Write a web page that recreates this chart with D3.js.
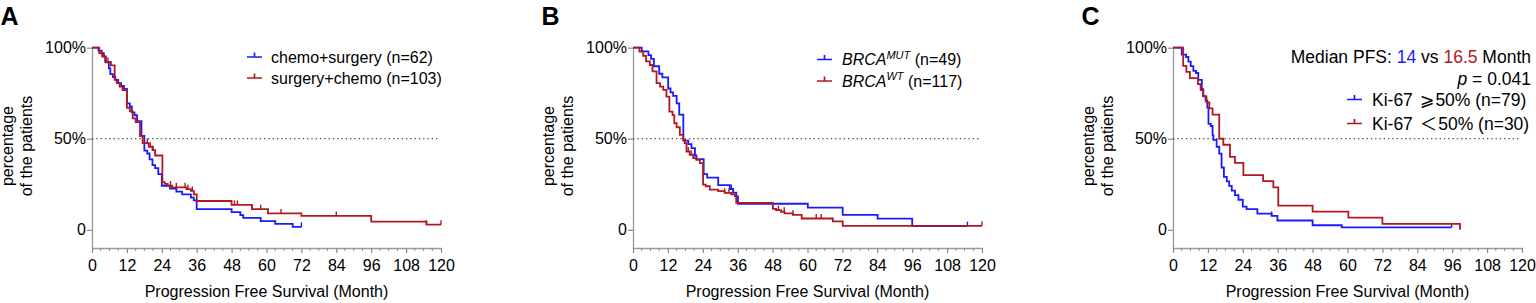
<!DOCTYPE html>
<html><head><meta charset="utf-8">
<script src="https://cdn.jsdelivr.net/npm/d3@7"></script>
<style>
html,body{margin:0;padding:0;background:#fff;}
svg{display:block;font-family:"Liberation Sans",Arial,sans-serif;}
</style></head><body>
<svg id="chart" width="1536" height="303"></svg>
<script>
// ---------- shared axis data ----------
const xTicks = [0,12,24,36,48,60,72,84,96,108,120];
const xMinorTicks = d3.range(0,121,3);
const yTicks = [0,50,100];
const yTickLabels = ["0","50%","100%"];
const panelLetters = ["A","B","C"];
const xTitle = "Progression Free Survival (Month)";
const yTitleLines = ["percentage","of the patients"];
const blue = "#1a1aff", red = "#b0191f";

// ---------- Panel A ----------
const aChemoSurgery = [[0,100],[2.2,98.4],[3.3,96.8],[4.1,95.2],[4.8,91.9],[5.8,88.7],[6.3,85.5],[7.2,83.9],[8,82.3],[9,80.6],[10,79],[11,77.4],[12,69.4],[13,67.7],[13.7,64.5],[14.6,62.9],[15.5,59.7],[17,51.6],[18,43.5],[19,41.9],[19.8,38.7],[20.8,35.5],[21.7,33.9],[22.8,30.6],[24,24.2],[26.8,22.6],[29,21],[31,19.4],[34,17.7],[35,16.1],[36,11.3],[48,9.7],[51,8.1],[52,6.5],[58,4.8],[63,3.2],[69,1.6]];
const aChemoSurgeryEnd = 72;
const aChemoSurgeryCensor = [72];
const aSurgeryChemo = [[0,100],[2.5,97.1],[3.5,95.1],[4.5,92.2],[6.5,90.3],[7.8,82.5],[8.5,80.6],[9.5,78.6],[10.5,76.7],[12,67],[13,65],[14,61.2],[15,59.2],[16.5,51.5],[17.4,47.6],[19.5,45.6],[20.8,43.7],[21.7,40.8],[24.2,26.2],[25,25.2],[26,24.3],[27.5,23.3],[32.5,22.3],[34,21.4],[35,19.4],[36,15.8],[48,13.7],[55,11.3],[60.5,9],[72,7.6],[96,4.5],[115,2.8]];
const aSurgeryChemoEnd = 120;
const aSurgeryChemoCensor = [4,5.5,19,20,21,27,29,32,33,34.5,49,50,55,58,65,84,115,120];
const aLegend = ["chemo+surgery (n=62)","surgery+chemo (n=103)"];

// ---------- Panel B ----------
const bMut = [[0,100],[3,98],[5.3,95.9],[6.2,93.9],[7.2,89.8],[9,85.7],[10.1,83.7],[12.1,77.6],[12.9,75.5],[13.8,73.5],[15,69.4],[15.9,63.3],[17.3,49],[19,47],[20.1,44.9],[21.3,40.8],[21.8,38.8],[24.3,30.6],[25.5,28.6],[29.3,24.5],[33.3,22.4],[34.4,20.4],[35.5,18.4],[36.1,14.3],[60.1,12.2],[72.1,8.2],[84.1,6.1],[96,2.0]];
const bMutEnd = 115;
const bMutCensor = [33.8,115];
const bWt = [[0,100],[2.2,97.9],[3.5,95.5],[4.5,92.5],[5.8,90.5],[6.7,87],[8.1,80.5],[9.3,78.6],[10.4,76.8],[11.5,73.1],[12.5,64.9],[13.6,63],[14.2,58.5],[15,56.3],[16.1,52.1],[17.3,49.4],[17.8,47.6],[18.4,43],[19.5,41.2],[20.7,39.4],[21.8,38.4],[23,36.6],[24.1,24.8],[25,23.9],[26.4,22.1],[29.3,21.2],[31.5,20.3],[33.8,19.4],[35,18.5],[35.5,14.8],[48.1,11.5],[49.2,10.8],[50.9,9.9],[52.1,9.0],[55,8.2],[58,6.2],[68.7,4.6],[72.1,2.2]];
const bWtEnd = 120;
const bWtCensor = [19,20,31.5,33,50,52,55,63,64.7,120];
const bLegendSup = ["MUT","WT"];
const bLegendN = [" (n=49)"," (n=117)"];

// ---------- Panel C ----------
const cHigh = [[0,100],[3,96.2],[4.5,94.9],[5.3,92.4],[6.1,89.9],[7,87.3],[7.9,86.1],[8.7,82.3],[9.9,77.2],[10.4,73.4],[11.2,70.9],[11.8,67.1],[12.2,58.2],[13,57],[13.6,51.9],[13.9,49.4],[15,45.6],[15.9,41.8],[16.7,34.2],[17.5,29.1],[18.5,26.6],[19.3,24.1],[20.2,21.5],[21.3,19],[22.5,16.5],[24,12.7],[25.3,11.4],[29,8.9],[33.9,7.6],[35.9,5.1],[48,2.5],[58,1.3]];
const cHighEnd = 95.8;
const cHighCensor = [33.9,95.8];
const cLow = [[0,100],[3.5,90],[4.6,86.7],[5.8,83.3],[8.6,80],[9.5,76.7],[10.4,73.3],[11.5,70],[12.5,66.7],[13.6,63.3],[15.9,50],[17.3,46.7],[19.6,40],[21.3,36.7],[24.2,30],[31,26.7],[34.5,23.3],[36.2,13.3],[48,10],[60.3,6.7],[72,3.3],[98.7,0]];
const cLowEnd = 98.7;
const cLowCensor = [];
const cMedianParts = [["Median PFS: ","#000"],["14",blue],[" vs ","#000"],["16.5",red],[" Month","#000"]];
const cPValue = "0.041";
const cLegendSym = ["\u2A7E","\uFF1C"];
const cLegendN = ["50% (n=79)","50% (n=30)"];

// ---------- drawing ----------
const svg = d3.select("#chart");
const font = '"Liberation Sans",Arial,sans-serif';
const panelOffsets = [0,541,1081];
const y = d3.scaleLinear().domain([-10,100]).range([248,47.7]);

function survAt(steps,t){
  let s = steps[0][1];
  for (const d of steps){ if (d[0] <= t) s = d[1]; }
  return s;
}

function drawPanel(i, series){
  const off = panelOffsets[i];
  const x = d3.scaleLinear().domain([0,120]).range([92+off, 441+off]);
  const g = svg.append("g");

  g.append("text").attr("x", off+0.5).attr("y", 25).attr("font-size", 25).attr("font-weight", "bold")
    .attr("font-family", font).text(panelLetters[i]);

  const ya = g.append("g").attr("transform", `translate(${x(0)},0)`)
    .call(d3.axisLeft(y).tickValues(yTicks).tickSize(5).tickSizeOuter(0).tickPadding(1)
      .tickFormat((d,k)=>yTickLabels[k]));
  ya.selectAll("text").attr("font-size", 16).attr("font-family", font).attr("fill", "#000");

  const xa = g.append("g").attr("transform", `translate(0,${y(-10)})`)
    .call(d3.axisBottom(x).tickValues(xTicks).tickSize(5).tickSizeOuter(0).tickPadding(7));
  xa.selectAll("text").attr("font-size", 16).attr("font-family", font).attr("fill", "#000");
  g.append("g").attr("transform", `translate(0,${y(-10)})`)
    .selectAll("line").data(xMinorTicks.filter(d=>d%12!==0)).join("line")
    .attr("x1", d=>x(d)).attr("x2", d=>x(d)).attr("y1", 0).attr("y2", 3)
    .attr("stroke", "#8a8a8a").attr("stroke-width", 1);
  [ya, xa].forEach(a=>{
    a.select(".domain").attr("stroke", "#9a9a9a").attr("stroke-width", 1.3);
    a.selectAll(".tick line").attr("stroke", "#8a8a8a").attr("stroke-width", 1.2);
  });

  g.append("text").attr("x", (x(0)+x(120))/2).attr("y", 296.5).attr("text-anchor", "middle")
    .attr("font-size", 16).attr("font-family", font).text(xTitle);
  yTitleLines.forEach((t,k)=>{
    g.append("text").attr("transform", `translate(${off+12.5+k*19},${y(46)}) rotate(-90)`)
      .attr("text-anchor", "middle").attr("font-size", 16).attr("font-family", font).text(t);
  });

  g.append("line").attr("x1", x(0)).attr("x2", x(119.5)).attr("y1", y(50)).attr("y2", y(50))
    .attr("stroke", "#222").attr("stroke-width", 1.2).attr("stroke-dasharray", "1.4,2.9");

  const line = d3.line().x(d=>x(d[0])).y(d=>y(d[1])).curve(d3.curveStepAfter);
  series.forEach(s=>{
    const pts = s.steps.concat([[s.end, s.steps[s.steps.length-1][1]]]);
    g.append("path").attr("d", line(pts)).attr("fill", "none").attr("stroke", s.color)
      .attr("stroke-width", 1.8).attr("stroke-linejoin", "miter");
    g.selectAll(null).data(s.censor).join("line")
      .attr("x1", d=>x(d)).attr("x2", d=>x(d))
      .attr("y1", d=>y(survAt(s.steps,d))).attr("y2", d=>y(survAt(s.steps,d))-4.5)
      .attr("stroke", s.color).attr("stroke-width", 1.4);
  });
  return g;
}

function legendSymbol(g, x1, yy, color){
  g.append("path").attr("d", `M${x1},${yy}H${x1+15}M${x1+7.5},${yy}V${yy-4.5}`)
    .attr("fill", "none").attr("stroke", color).attr("stroke-width", 1.7);
}

const gA = drawPanel(0, [
  {steps: aChemoSurgery, end: aChemoSurgeryEnd, censor: aChemoSurgeryCensor, color: blue},
  {steps: aSurgeryChemo, end: aSurgeryChemoEnd, censor: aSurgeryChemoCensor, color: red}
]);
[blue, red].forEach((c,k)=>{
  legendSymbol(gA, 247, 57+k*21, c);
  gA.append("text").attr("x", 271).attr("y", 62.5+k*21).attr("font-size", 16)
    .attr("font-family", font).text(aLegend[k]);
});

const gB = drawPanel(1, [
  {steps: bMut, end: bMutEnd, censor: bMutCensor, color: blue},
  {steps: bWt, end: bWtEnd, censor: bWtCensor, color: red}
]);
[blue, red].forEach((c,k)=>{
  legendSymbol(gB, 817, 59.5+k*21.5, c);
  const t = gB.append("text").attr("x", 842).attr("y", 65+k*21.5).attr("font-size", 16)
    .attr("font-family", font);
  t.append("tspan").attr("font-style", "italic").text("BRCA");
  t.append("tspan").attr("font-style", "italic").attr("font-size", 11).attr("dy", -6.5).text(bLegendSup[k]);
  t.append("tspan").attr("dy", 6.5).text(bLegendN[k]);
});

const gC = drawPanel(2, [
  {steps: cHigh, end: cHighEnd, censor: cHighCensor, color: blue},
  {steps: cLow, end: cLowEnd, censor: cLowCensor, color: red}
]);
const mt = gC.append("text").attr("x", 1531).attr("y", 62.5).attr("text-anchor", "end")
  .attr("font-size", 17.5).attr("font-family", font);
cMedianParts.forEach(p=>mt.append("tspan").attr("fill", p[1]).text(p[0]));
const pt = gC.append("text").attr("x", 1531).attr("y", 85).attr("text-anchor", "end")
  .attr("font-size", 17.5).attr("font-family", font);
pt.append("tspan").attr("font-style", "italic").text("p");
pt.append("tspan").text(" = " + cPValue);
[blue, red].forEach((c,k)=>{
  legendSymbol(gC, 1347, 99.5+k*24, c);
  const t = gC.append("text").attr("x", 1372).attr("y", 105.5+k*24).attr("font-size", 17.5)
    .attr("font-family", font);
  t.append("tspan").text("Ki-67 ");
  t.append("tspan").attr("dx", 2).attr("font-family", '"Noto Sans CJK SC","DejaVu Sans",sans-serif').text(cLegendSym[k]);
  t.append("tspan").attr("dx", 1).text(cLegendN[k]);
});
</script>
</body></html>
